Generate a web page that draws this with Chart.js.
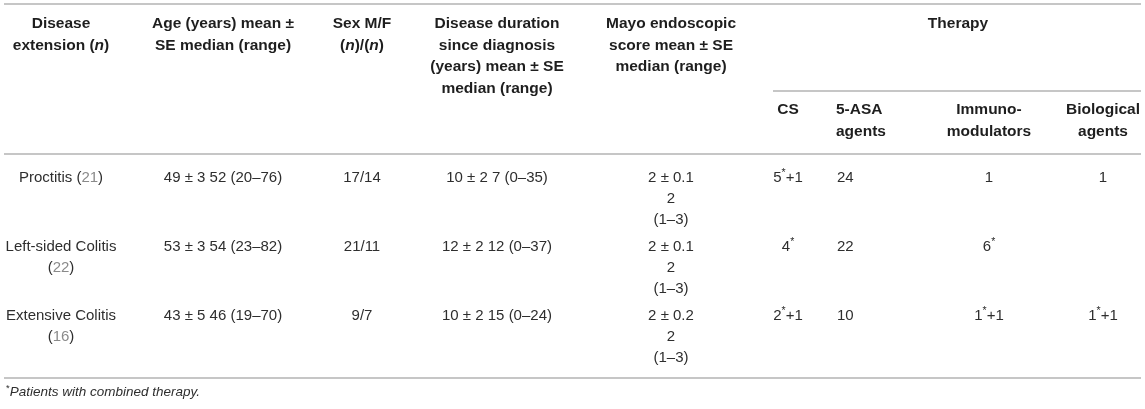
<!DOCTYPE html>
<html>
<head>
<meta charset="utf-8">
<title>Disease extension table</title>
<script src="https://cdn.jsdelivr.net/npm/chart.js@4.4.1/dist/chart.umd.min.js"></script>
<style>
  html, body { margin: 0; padding: 0; background: #fff; }
  #wrap { width: 1145px; height: 409px; position: relative; }
</style>
</head>
<body>
<div id="wrap"><canvas id="tableCanvas"></canvas></div>
<script>
// ---- table content ----
const extensions = ['Proctitis', 'Left-sided Colitis', 'Extensive Colitis'];
const patientCounts = [21, 22, 16];
const ageStats = ['49 ± 3 52 (20–76)', '53 ± 3 54 (23–82)', '43 ± 5 46 (19–70)'];
const sexMF = ['17/14', '21/11', '9/7'];
const durationStats = ['10 ± 2 7 (0–35)', '12 ± 2 12 (0–37)', '10 ± 2 15 (0–24)'];
const mayoMeanSE = ['2 ± 0.1', '2 ± 0.1', '2 ± 0.2'];
const mayoMedian = ['2', '2', '2'];
const mayoRange = ['(1–3)', '(1–3)', '(1–3)'];
const csTherapy = ['5^*+1', '4^*', '2^*+1'];
const asaTherapy = ['24', '22', '10'];
const immunoTherapy = ['1', '6^*', '1^*+1'];
const biologicalTherapy = ['1', '', '1^*+1'];

const mainHeaders = [
  ['Disease', 'extension (_n_)'],
  ['Age (years) mean ±', 'SE median (range)'],
  ['Sex M/F', '(_n_)/(_n_)'],
  ['Disease duration', 'since diagnosis', '(years) mean ± SE', 'median (range)'],
  ['Mayo endoscopic', 'score mean ± SE', 'median (range)']
];
const groupHeader = 'Therapy';
const therapyHeaders = [['CS'], ['5-ASA', 'agents'], ['Immuno-', 'modulators'], ['Biological', 'agents']];
const footnote = '^*_Patients with combined therapy._';

// ---- layout (table units = css px) ----
const FONT = "'Liberation Sans', Arial, Helvetica, sans-serif";
const W = 1145, H = 409;
const colX = [61, 223, 362, 497, 671];
const therapyX = [788, 836, 989, 1103];
const therapyAlign = ['center', 'left', 'center', 'center'];
const therapyCenter = 958;
const ruleLeft = 4, ruleRight = 1141;
const topRule = 4, groupRule = 91, headRule = 154, bottomRule = 378;
const groupRuleLeft = 773;
const headFirst = 24, headLineH = 21.5, subFirst = 110, subLineH = 22;
const bodyFirst = 178, rowH = 69, lineH = 21;
const noteY = 392;
const col1Width = 112;
const headSize = 15.5, bodySize = 15, noteSize = 13.5;
const headColor = '#1e1e1e', bodyColor = '#2e2e2e', countColor = '#8a8a8a';
const ruleColor = '#c6c6c6';

// turn "_x_" into italic and "^*" into a raised asterisk
function parseRich(str, color) {
  const segs = [];
  str.split(/(\^\*|_[^_]+_)/).forEach(p => {
    if (!p) return;
    if (p === '^*') segs.push({ text: '*', sup: true, color });
    else if (p[0] === '_' && p.length > 2) segs.push({ text: p.slice(1, -1), italic: true, color });
    else segs.push({ text: p, color });
  });
  return segs;
}

function segFont(seg, size, bold) {
  const s = seg.sup ? size * 0.7 : size;
  return `${seg.italic ? 'italic ' : ''}${bold ? 'bold ' : ''}${s}px ${FONT}`;
}

function richWidth(ctx, segs, size, bold) {
  let w = 0;
  segs.forEach(seg => { ctx.font = segFont(seg, size, bold); w += ctx.measureText(seg.text).width; });
  return w;
}

function drawRich(ctx, segs, x, y, align, size, bold) {
  const w = richWidth(ctx, segs, size, bold);
  let cx = align === 'center' ? x - w / 2 : (align === 'right' ? x - w : x);
  ctx.textAlign = 'left';
  ctx.textBaseline = 'middle';
  segs.forEach(seg => {
    ctx.font = segFont(seg, size, bold);
    ctx.fillStyle = seg.color;
    ctx.fillText(seg.text, cx, seg.sup ? y - size * 0.3 : y);
    cx += ctx.measureText(seg.text).width;
  });
}

const tablePlugin = {
  id: 'tableText',
  afterDraw(chart) {
    const { ctx, scales: { x, y } } = chart;
    const px = v => x.getPixelForValue(v);
    const py = v => y.getPixelForValue(v);
    ctx.save();

    // rules
    ctx.strokeStyle = ruleColor;
    ctx.lineWidth = 2;
    [topRule, headRule, bottomRule].forEach(r => {
      ctx.beginPath(); ctx.moveTo(px(ruleLeft), py(r)); ctx.lineTo(px(ruleRight), py(r)); ctx.stroke();
    });
    ctx.beginPath(); ctx.moveTo(px(groupRuleLeft), py(groupRule)); ctx.lineTo(px(ruleRight), py(groupRule)); ctx.stroke();

    // header
    mainHeaders.forEach((lines, c) => {
      lines.forEach((ln, i) => drawRich(ctx, parseRich(ln, headColor), px(colX[c]), py(headFirst + i * headLineH), 'center', headSize, true));
    });
    drawRich(ctx, parseRich(groupHeader, headColor), px(therapyCenter), py(headFirst), 'center', headSize, true);
    therapyHeaders.forEach((lines, c) => {
      lines.forEach((ln, i) => drawRich(ctx, parseRich(ln, headColor), px(therapyX[c]), py(subFirst + i * subLineH), therapyAlign[c], headSize, true));
    });

    // body rows
    extensions.forEach((name, r) => {
      const top = bodyFirst + r * rowH;
      const countSegs = [{ text: '(', color: bodyColor }, { text: String(patientCounts[r]), color: countColor }, { text: ')', color: bodyColor }];
      const nameSegs = [{ text: name, color: bodyColor }];
      const oneLine = nameSegs.concat([{ text: ' ', color: bodyColor }], countSegs);
      if (richWidth(ctx, oneLine, bodySize, false) <= col1Width) {
        drawRich(ctx, oneLine, px(colX[0]), py(top), 'center', bodySize, false);
      } else {
        drawRich(ctx, nameSegs, px(colX[0]), py(top), 'center', bodySize, false);
        drawRich(ctx, countSegs, px(colX[0]), py(top + lineH), 'center', bodySize, false);
      }
      drawRich(ctx, parseRich(ageStats[r], bodyColor), px(colX[1]), py(top), 'center', bodySize, false);
      drawRich(ctx, parseRich(sexMF[r], bodyColor), px(colX[2]), py(top), 'center', bodySize, false);
      drawRich(ctx, parseRich(durationStats[r], bodyColor), px(colX[3]), py(top), 'center', bodySize, false);
      [mayoMeanSE[r], mayoMedian[r], mayoRange[r]].forEach((t, i) =>
        drawRich(ctx, parseRich(t, bodyColor), px(colX[4]), py(top + i * lineH), 'center', bodySize, false));
      [csTherapy[r], asaTherapy[r], immunoTherapy[r], biologicalTherapy[r]].forEach((t, c) => {
        if (t) drawRich(ctx, parseRich(t, bodyColor), px(therapyX[c] + (c === 1 ? 1 : 0)), py(top), therapyAlign[c], bodySize, false);
      });
    });

    // footnote
    drawRich(ctx, parseRich(footnote, bodyColor), px(6), py(noteY), 'left', noteSize, false);
    ctx.restore();
  }
};

new Chart(document.getElementById('tableCanvas'), {
  type: 'scatter',
  data: { datasets: [{ data: [], pointRadius: 0 }] },
  options: {
    responsive: true,
    maintainAspectRatio: false,
    animation: false,
    events: [],
    layout: { padding: 0 },
    plugins: { legend: { display: false }, tooltip: { enabled: false } },
    scales: {
      x: { type: 'linear', min: 0, max: W, display: false },
      y: { type: 'linear', min: 0, max: H, reverse: true, display: false }
    }
  },
  plugins: [tablePlugin]
});
</script>
</body>
</html>
